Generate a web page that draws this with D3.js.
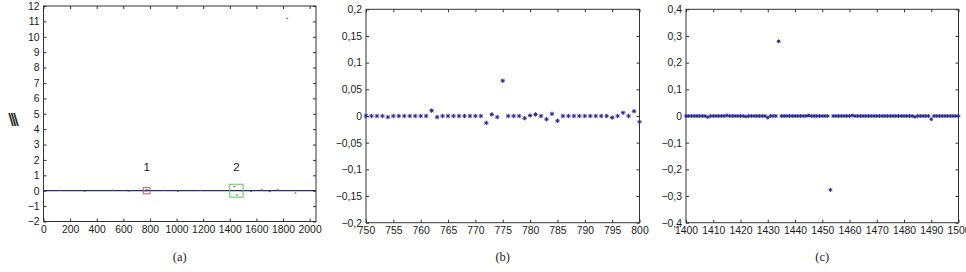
<!DOCTYPE html>
<html>
<head>
<meta charset="utf-8">
<script src="https://cdn.jsdelivr.net/npm/d3@7"></script>
<style>
  body { margin: 0; background: #fff; }
  svg { display: block; }
  .tick text { font-family: "Liberation Sans", Arial, sans-serif; font-size: 10.4px; fill: #1a1a1a; }
  .tick line { stroke: #333; }
</style>
</head>
<body>
<div id="chart"></div>
<script>
// ---- data ----
// panel (a): whole signal, only the visible deviations are listed
const aX = [120, 310, 520, 640, 762, 772, 775, 905, 1010, 1180, 1434, 1453, 1490, 1560, 1640, 1700, 1760, 1831, 1892];
const aY = [0.02, -0.03, 0.03, -0.02, 0.01, -0.013, 0.067, 0.02, -0.03, 0.02, 0.28, -0.275, -0.012, -0.04, 0.05, -0.06, 0.05, 11.2, -0.15];
const aXTicks = [0, 200, 400, 600, 800, 1000, 1200, 1400, 1600, 1800, 2000];
const aYTicks = [-2, -1, 0, 1, 2, 3, 4, 5, 6, 7, 8, 9, 10, 11, 12];

// panel (b): samples 750..800
const bX = d3.range(750, 801);
const bY = [
  0, 0, 0, 0, -0.002, 0, 0, 0, 0, 0,
  0, 0, 0.01, -0.002, 0, 0, 0, 0, 0, 0,
  0, 0, -0.013, 0.003, -0.002, 0.066, 0, 0, 0, -0.004,
  0.001, 0.003, 0, -0.006, 0.004, -0.009, 0, 0, 0, 0,
  0, 0, 0, 0, 0, -0.003, 0, 0.006, 0, 0.009,
  -0.011
];
const bXTicks = [750, 755, 760, 765, 770, 775, 780, 785, 790, 795, 800];
const bYTicks = [-0.2, -0.15, -0.1, -0.05, 0, 0.05, 0.1, 0.15, 0.2];

// panel (c): samples 1400..1500
const cX = d3.range(1400, 1501);
const cY = [
  0, 0, 0, 0, 0, 0, 0, 0, -0.004, 0,
  0, 0, 0, 0, 0, 0.002, 0, 0, 0, 0,
  0, 0, -0.002, 0, 0, 0, 0, 0, 0, 0,
  -0.006, 0, 0, 0, 0.28, 0, 0, 0, 0, 0,
  0, 0, 0, 0, 0, 0.002, 0, 0, 0, 0,
  0, 0, 0, -0.277, 0, 0, 0, 0, 0, 0,
  0, 0.002, 0, 0, 0, 0, 0, 0, 0, 0,
  0, 0, 0, 0, 0, 0, 0, 0, 0, 0,
  0, 0, 0, 0, -0.003, 0, 0, 0, 0, 0,
  -0.012, 0, 0, 0, 0, 0, 0, 0, 0, 0,
  0
];
const cXTicks = [1400, 1410, 1420, 1430, 1440, 1450, 1460, 1470, 1480, 1490, 1500];
const cYTicks = [-0.4, -0.3, -0.2, -0.1, 0, 0.1, 0.2, 0.3, 0.4];

// zoom boxes drawn on panel (a)
const boxes = [
  { label: "1", x: [750, 800], y: [-0.2, 0.2], color: "#c8507a" },
  { label: "2", x: [1400, 1500], y: [-0.42, 0.42], color: "#55cc55" }
];

const W = 966, H = 272;
const markColor = "#26268f";

const svg = d3.select("#chart").append("svg")
  .attr("width", W)
  .attr("height", H);

// comma decimal format, long minus
const fmt = d => d === 0 ? "0" : (d < 0 ? "\u2212" : "") + String(Math.abs(d)).replace(".", ",");

function drawPanel(p) {
  const x = d3.scaleLinear().domain(p.xDomain).range([p.left, p.right]);
  const y = d3.scaleLinear().domain(p.yDomain).range([p.bottom, p.top]);

  svg.append("g")
    .attr("transform", `translate(0,${p.bottom})`)
    .call(d3.axisBottom(x).tickValues(p.xTicks).tickSizeInner(-3).tickSizeOuter(0).tickPadding(4).tickFormat(d3.format("d")))
    .call(g => g.select(".domain").remove());
  svg.append("g")
    .attr("transform", `translate(0,${p.top})`)
    .call(d3.axisTop(x).tickValues(p.xTicks).tickSizeInner(-3).tickSizeOuter(0).tickFormat(""))
    .call(g => g.select(".domain").remove());
  svg.append("g")
    .attr("transform", `translate(${p.left},0)`)
    .call(d3.axisLeft(y).tickValues(p.yTicks).tickSizeInner(-3).tickSizeOuter(0).tickPadding(4).tickFormat(fmt))
    .call(g => g.select(".domain").remove());
  svg.append("g")
    .attr("transform", `translate(${p.right},0)`)
    .call(d3.axisRight(y).tickValues(p.yTicks).tickSizeInner(-3).tickSizeOuter(0).tickFormat(""))
    .call(g => g.select(".domain").remove());

  // box frame
  svg.append("rect")
    .attr("x", p.left)
    .attr("y", p.top)
    .attr("width", p.right - p.left)
    .attr("height", p.bottom - p.top)
    .attr("fill", "none")
    .attr("stroke", "#333")
    .attr("stroke-width", 1);

  // caption
  svg.append("text")
    .attr("x", (p.left + p.right) / 2)
    .attr("y", 261)
    .attr("text-anchor", "middle")
    .style("font-family", "'Liberation Serif', 'Times New Roman', serif")
    .style("font-size", "12.5px")
    .attr("fill", "#222")
    .text(p.caption);

  return { x, y };
}

// asterisk marker
function star(g, cx, cy, s) {
  g.append("path")
    .attr("d", `M${cx - s},${cy}H${cx + s}M${cx},${cy - s}V${cy + s}` +
      `M${cx - s * 0.7},${cy - s * 0.7}L${cx + s * 0.7},${cy + s * 0.7}` +
      `M${cx - s * 0.7},${cy + s * 0.7}L${cx + s * 0.7},${cy - s * 0.7}`)
    .attr("stroke", markColor)
    .attr("stroke-width", 1)
    .attr("fill", "none");
}

// ---- panel (a) ----
const pa = drawPanel({
  left: 43.5, right: 316, top: 6, bottom: 221.5,
  xDomain: [0, 2048], yDomain: [-2, 12],
  xTicks: aXTicks, yTicks: aYTicks, caption: "(a)"
});

// trace along the signal level
svg.append("line")
  .attr("x1", pa.x(0)).attr("x2", pa.x(2048))
  .attr("y1", pa.y(0)).attr("y2", pa.y(0))
  .attr("stroke", "#2a2a7a")
  .attr("stroke-width", 1.2);

svg.append("g").selectAll("rect")
  .data(aX.map((d, i) => [d, aY[i]]))
  .join("rect")
  .attr("x", d => pa.x(d[0]) - 1)
  .attr("y", d => pa.y(d[1]) - 0.5)
  .attr("width", 2)
  .attr("height", 1)
  .attr("fill", "#555577");

boxes.forEach(b => {
  svg.append("rect")
    .attr("x", pa.x(b.x[0]))
    .attr("y", pa.y(b.y[1]))
    .attr("width", pa.x(b.x[1]) - pa.x(b.x[0]))
    .attr("height", pa.y(b.y[0]) - pa.y(b.y[1]))
    .attr("fill", "none")
    .attr("stroke", b.color)
    .attr("stroke-width", 1);
  svg.append("text")
    .attr("x", pa.x((b.x[0] + b.x[1]) / 2))
    .attr("y", pa.y(1.3))
    .attr("text-anchor", "middle")
    .style("font-family", "'Liberation Sans', Arial, sans-serif")
    .style("font-size", "11.5px")
    .attr("fill", "#1a1a1a")
    .text(b.label);
});

// y label glyph (illegible in the source)
svg.append("text")
  .attr("x", 12)
  .attr("y", 125)
  .attr("text-anchor", "middle")
  .style("font-family", "'DejaVu Sans', sans-serif")
  .style("font-size", "15px")
  .style("font-weight", "bold")
  .style("letter-spacing", "-3px")
  .attr("fill", "#222")
  .text("\\\\\\");

// ---- panel (b) ----
const pb = drawPanel({
  left: 366, right: 639.5, top: 9.3, bottom: 222.7,
  xDomain: [750, 800], yDomain: [-0.2, 0.2],
  xTicks: bXTicks, yTicks: bYTicks, caption: "(b)"
});
const gb = svg.append("g");
bX.forEach((d, i) => star(gb, pb.x(d), pb.y(bY[i]), 2.2));

// ---- panel (c) ----
const pc = drawPanel({
  left: 686, right: 958.5, top: 9.3, bottom: 222.7,
  xDomain: [1400, 1500], yDomain: [-0.4, 0.4],
  xTicks: cXTicks, yTicks: cYTicks, caption: "(c)"
});
const gc = svg.append("g");
cX.forEach((d, i) => star(gc, pc.x(d), pc.y(cY[i]), 1.9));
</script>
</body>
</html>
